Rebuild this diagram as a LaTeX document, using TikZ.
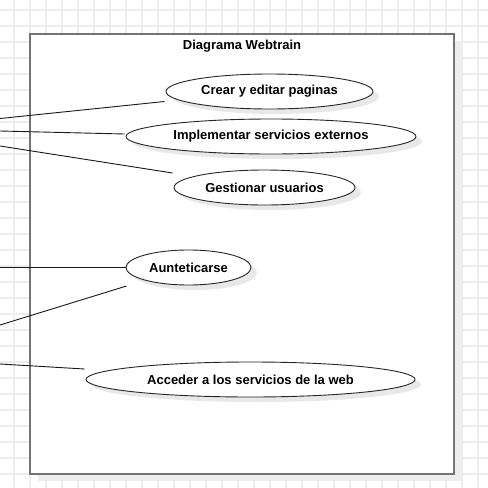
\documentclass[tikz,border=0pt]{standalone}
\usepackage{fontspec}
\setmainfont{Liberation Sans}
\usepackage{tikz}
\usetikzlibrary{positioning,shapes,shadows}
\tikzset{
    usecase/.style={ellipse, draw=black!85, fill=white, line width=0.9pt, inner sep=0pt,
        font=\fontsize{13}{15}\selectfont\bfseries,
        drop shadow={shadow xshift=6pt, shadow yshift=-5pt, fill=black!9, opacity=1}},
    system/.style={rectangle, draw=black!55, fill=white, line width=1.6pt,
        minimum width=424pt, minimum height=440pt,
        drop shadow={shadow xshift=8pt, shadow yshift=-7pt, fill=black!7, opacity=1}},
    gridline/.style={line width=1.4pt, black!7},
    assoc/.style={line width=0.9pt, black!90}
}

\begin{document}
\begin{tikzpicture}[x=1pt, y=-1pt]
    \useasboundingbox (0,0) rectangle (488,488);

    % background grid
    \foreach \gx in {14,30,...,478} \draw[gridline] (\gx,0) -- (\gx,488);
    \foreach \gy in {10,26,...,474} \draw[gridline] (0,\gy) -- (488,\gy);

    \node[system] (sys) at (242,254) {};
    \node[font=\fontsize{13}{15}\selectfont\bfseries] (title) at (242,46) {Diagrama Webtrain};

    \node[usecase, minimum width=207pt, minimum height=35pt] (crear) at (269.5,91.5) {Crear y editar paginas};
    \node[usecase, minimum width=290pt, minimum height=35pt] (impl) at (271,136.5) {Implementar servicios externos};
    \node[usecase, minimum width=181pt, minimum height=35pt] (gest) at (264.5,187.5) {Gestionar usuarios};
    \node[usecase, minimum width=125pt, minimum height=35pt] (aut) at (188.5,267.5) {Aunteticarse};
    \node[usecase, minimum width=329pt, minimum height=35pt] (acc) at (250.5,379.5) {Acceder a los servicios de la web};

    % actors lie outside the picture
    \coordinate (a1) at (0,118.5);
    \coordinate (a2) at (0,131);
    \coordinate (a3) at (0,146);
    \coordinate (a4) at (0,267);
    \coordinate (a5) at (0,325);
    \coordinate (a6) at (0,364);

    \draw[assoc] (a1) -- ([shift={(-1,10)}]crear.west);
    \draw[assoc] (a2) -- ([shift={(-1,-2.5)}]impl.west);
    \draw[assoc] (a3) -- ([shift={(-1,-14.5)}]gest.west);
    \draw[assoc] (a4) -- ([shift={(0,-0.5)}]aut.west);
    \draw[assoc] (a5) -- ([shift={(1,18.5)}]aut.west);
    \draw[assoc] (a6) -- ([shift={(-1,-10.5)}]acc.west);

\end{tikzpicture}
\end{document}
